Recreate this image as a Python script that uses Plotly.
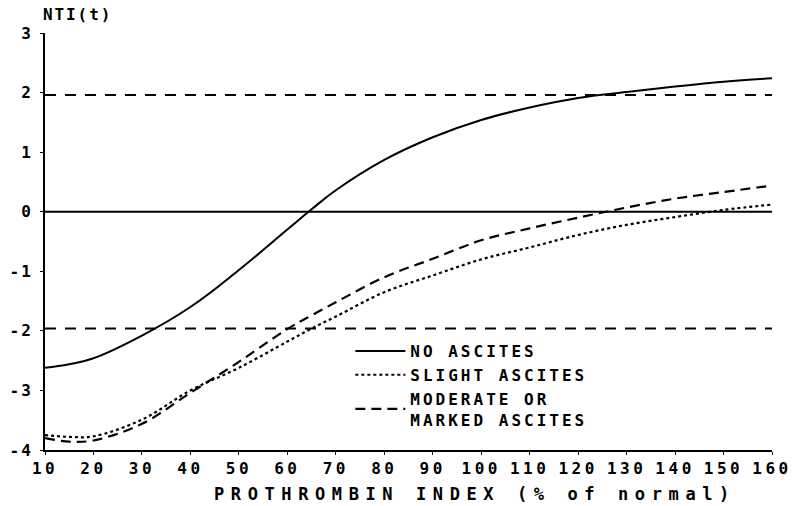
import plotly.graph_objects as go

# Data
prothrombin = [10, 15, 20, 30, 40, 50, 60, 65, 70, 80, 90, 100, 110, 120, 130, 140, 150, 160]
no_ascites = [-2.62, -2.56, -2.46, -2.08, -1.60, -0.98, -0.30, 0.04, 0.36, 0.87, 1.25, 1.54, 1.75, 1.91, 2.01, 2.10, 2.18, 2.24]
slight_ascites = [-3.75, -3.78, -3.77, -3.49, -3.00, -2.62, -2.18, -1.96, -1.76, -1.35, -1.07, -0.80, -0.60, -0.39, -0.22, -0.09, 0.03, 0.12]
moderate_ascites = [-3.80, -3.86, -3.84, -3.56, -3.04, -2.52, -1.97, -1.74, -1.52, -1.10, -0.79, -0.48, -0.28, -0.10, 0.07, 0.22, 0.33, 0.44]
ref_lines = [1.96, -1.96]
x_ticks = [10, 20, 30, 40, 50, 60, 70, 80, 90, 100, 110, 120, 130, 140, 150, 160]
y_ticks = [-4, -3, -2, -1, 0, 1, 2, 3]

FONT = "DejaVu Sans Mono"


def spaced(text, px):
    return '<span style="letter-spacing:%spx">%s</span>' % (px, text)


fig = go.Figure()

common = dict(mode="lines", line_shape="spline", hoverinfo="skip")
fig.add_trace(go.Scatter(x=prothrombin, y=no_ascites, name=spaced("NO ASCITES", 3),
                         line=dict(color="black", width=2, dash="solid", smoothing=1.2), **common))
fig.add_trace(go.Scatter(x=prothrombin, y=slight_ascites, name=spaced("SLIGHT ASCITES", 3),
                         line=dict(color="black", width=2.2, dash="3px,3px"), **common))
fig.add_trace(go.Scatter(x=prothrombin, y=moderate_ascites,
                         name=spaced("MODERATE OR", 3) + "<br>" + spaced("MARKED ASCITES", 3),
                         line=dict(color="black", width=2.2, dash="10px,6px"), **common))

shapes = []
for v in ref_lines:
    shapes.append(dict(type="line", xref="x", yref="y", x0=prothrombin[0], x1=prothrombin[-1],
                       y0=v, y1=v, line=dict(color="black", width=2, dash="11px,9px")))
shapes.append(dict(type="line", xref="x", yref="y", x0=prothrombin[0], x1=prothrombin[-1],
                   y0=0, y1=0, line=dict(color="black", width=2)))

axis_font = dict(family=FONT, size=16, color="black", weight="bold")

fig.update_layout(
    template="none",
    width=800, height=506,
    margin=dict(l=45, r=28, t=33, b=56),
    paper_bgcolor="white", plot_bgcolor="white",
    font=dict(family=FONT, color="black", size=16, weight="bold"),
    shapes=shapes,
    showlegend=True,
    legend=dict(x=0.42, y=0.278, xanchor="left", yanchor="top",
                bgcolor="rgba(0,0,0,0)", borderwidth=0,
                font=dict(family=FONT, size=16, color="black", weight="bold"),
                itemwidth=50, tracegroupgap=0),
    xaxis=dict(range=[10, 160], tickvals=x_ticks, ticktext=[spaced(str(t), 3.5) for t in x_ticks],
               showline=True, linecolor="black", linewidth=2, ticks="outside", ticklen=3,
               tickcolor="black", showgrid=False, zeroline=False, automargin=False,
               tickfont=axis_font),
    yaxis=dict(range=[-4, 3], tickvals=y_ticks, ticktext=[spaced(str(t), 2) for t in y_ticks],
               showline=True, linecolor="black", linewidth=2, ticks="outside", ticklen=3,
               tickcolor="black", showgrid=False, zeroline=False, automargin=False,
               ticklabelstandoff=4, tickfont=axis_font),
    annotations=[
        dict(text=spaced("NTI(t)", 1.9), xref="paper", yref="paper", x=-0.005, y=1.045,
             xanchor="left", yanchor="middle", showarrow=False,
             font=dict(family=FONT, size=16, color="black", weight="bold")),
        dict(text=spaced("PROTHROMBIN INDEX (% of normal)", 6.6), xref="paper", yref="paper",
             x=0.23, y=-0.105, xanchor="left", yanchor="middle", showarrow=False,
             font=dict(family=FONT, size=17, color="black", weight="bold")),
    ],
)

fig.write_html("out.html", config={"displayModeBar": False},
               post_script="document.body.style.margin='0';")
